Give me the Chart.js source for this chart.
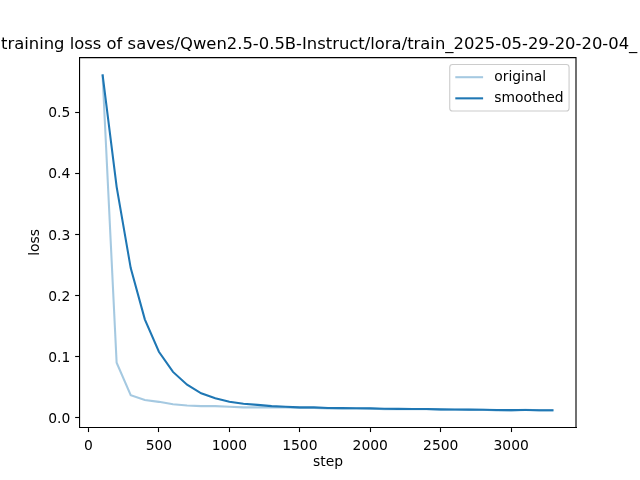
<!DOCTYPE html>
<html>
<head>
<meta charset="utf-8">
<script src="https://cdn.jsdelivr.net/npm/chart.js@4.4.1/dist/chart.umd.min.js"></script>
<style>
html,body{margin:0;padding:0;background:#fff;}
#wrap{width:640px;height:480px;}
</style>
</head>
<body>
<div id="wrap"><canvas id="c" width="640" height="480"></canvas></div>
<script>
const titleText = "training loss of saves/Qwen2.5-0.5B-Instruct/lora/train_2025-05-29-20-20-04_";
const steps = [100,200,300,400,500,600,700,800,900,1000,1100,1200,1300,1400,1500,1600,1700,1800,1900,2000,2100,2200,2300,2400,2500,2600,2700,2800,2900,3000,3100,3200,3300];
const original = [0.562,0.090,0.037,0.029,0.026,0.022,0.020,0.019,0.019,0.018,0.017,0.017,0.017,0.017,0.016,0.016,0.015,0.015,0.015,0.015,0.014,0.014,0.014,0.014,0.013,0.013,0.013,0.013,0.012,0.012,0.013,0.012,0.012];
const smoothed = [0.562,0.378,0.245,0.161,0.108,0.075,0.054,0.040,0.032,0.026,0.023,0.021,0.019,0.018,0.017,0.017,0.016,0.0157,0.0155,0.0153,0.0148,0.0145,0.0143,0.0142,0.0137,0.0134,0.0133,0.0132,0.0127,0.0124,0.0126,0.0123,0.0122];
const xTicks = [0,500,1000,1500,2000,2500,3000];
const yTicks = [0.0,0.1,0.2,0.3,0.4,0.5];
const seriesNames = ["original","smoothed"];
const xLabel = "step";
const yLabel = "loss";

const FONT = "'DejaVu Sans', sans-serif";
const FS = 13.89;
const BLUE = "#1f77b4";
const BLUE_A = "rgba(31,119,180,0.4)";
const LW = 2.08;

const overlay = {
  id: 'overlay',
  afterDraw(chart) {
    const ctx = chart.ctx;
    const a = chart.chartArea;
    ctx.save();
    // top & right spines
    ctx.strokeStyle = '#000';
    ctx.lineWidth = 1.11;
    ctx.beginPath();
    ctx.moveTo(a.left, a.top);
    ctx.lineTo(a.right, a.top);
    ctx.lineTo(a.right, a.bottom);
    ctx.stroke();
    // title (overflows the figure; left edge sits at the figure edge)
    ctx.fillStyle = '#000';
    ctx.font = `16.4px ${FONT}`;
    ctx.textAlign = 'left';
    ctx.textBaseline = 'alphabetic';
    ctx.fillText(titleText, 1, 49.3);
    // axis labels
    ctx.font = `${FS}px ${FONT}`;
    ctx.textAlign = 'center';
    ctx.textBaseline = 'middle';
    ctx.fillText(xLabel, (a.left + a.right) / 2, 462);
    ctx.save();
    ctx.translate(35.5, (a.top + a.bottom) / 2);
    ctx.rotate(-Math.PI / 2);
    ctx.fillText(yLabel, 0, 0);
    ctx.restore();
    // legend
    const pad = 5.56, hl = 27.8, htp = 11.1, ls = 6.94, rowH = 14.2;
    ctx.font = `${FS}px ${FONT}`;
    let tw = 0;
    seriesNames.forEach(n => tw = Math.max(tw, ctx.measureText(n).width));
    const w = pad + hl + htp + tw + pad;
    const h = pad * 2 + rowH * 2 + ls;
    const x0 = a.right - 6.94 - w;
    const y0 = a.top + 6.94;
    const r = 2.8;
    ctx.beginPath();
    ctx.moveTo(x0 + r, y0);
    ctx.lineTo(x0 + w - r, y0);
    ctx.arcTo(x0 + w, y0, x0 + w, y0 + r, r);
    ctx.lineTo(x0 + w, y0 + h - r);
    ctx.arcTo(x0 + w, y0 + h, x0 + w - r, y0 + h, r);
    ctx.lineTo(x0 + r, y0 + h);
    ctx.arcTo(x0, y0 + h, x0, y0 + h - r, r);
    ctx.lineTo(x0, y0 + r);
    ctx.arcTo(x0, y0, x0 + r, y0, r);
    ctx.closePath();
    ctx.fillStyle = 'rgba(255,255,255,0.8)';
    ctx.fill();
    ctx.strokeStyle = '#cccccc';
    ctx.lineWidth = 1.11;
    ctx.stroke();
    const cols = [BLUE_A, BLUE];
    seriesNames.forEach((n, i) => {
      const cy = y0 + pad + rowH / 2 + i * (rowH + ls);
      ctx.strokeStyle = cols[i];
      ctx.lineWidth = LW;
      ctx.beginPath();
      ctx.moveTo(x0 + pad, cy);
      ctx.lineTo(x0 + pad + hl, cy);
      ctx.stroke();
      ctx.fillStyle = '#000';
      ctx.textAlign = 'left';
      ctx.textBaseline = 'middle';
      ctx.fillText(n, x0 + pad + hl + htp, cy + 0.5);
    });
    ctx.restore();
  }
};

new Chart(document.getElementById('c'), {
  type: 'line',
  data: {
    datasets: [
      { label: seriesNames[0], data: steps.map((s, i) => ({x: s, y: original[i]})), borderColor: BLUE_A, borderWidth: LW, pointRadius: 0, tension: 0, fill: false, order: 1 },
      { label: seriesNames[1], data: steps.map((s, i) => ({x: s, y: smoothed[i]})), borderColor: BLUE, borderWidth: LW, pointRadius: 0, tension: 0, fill: false, order: 0 }
    ]
  },
  options: {
    responsive: false,
    animation: false,
    devicePixelRatio: 1,
    events: [],
    layout: { padding: { left: 0, top: 57.6, right: 64, bottom: 0 } },
    plugins: { legend: { display: false }, title: { display: false }, tooltip: { enabled: false } },
    scales: {
      x: {
        type: 'linear',
        min: -60, max: 3460,
        afterBuildTicks: s => { s.ticks = xTicks.map(v => ({value: v})); },
        afterFit: s => { s.height = 52.8; },
        grid: { drawOnChartArea: false, drawTicks: true, tickLength: 4.86, tickWidth: 1.11, tickColor: '#000' },
        border: { display: true, color: '#000', width: 1.11 },
        ticks: { color: '#000', font: { family: FONT, size: FS }, padding: 6.5, maxRotation: 0, autoSkip: false, callback: v => String(v) }
      },
      y: {
        type: 'linear',
        min: -0.0155, max: 0.5895,
        afterBuildTicks: s => { s.ticks = yTicks.map(v => ({value: v})); },
        afterFit: s => { s.width = 80; },
        grid: { drawOnChartArea: false, drawTicks: true, tickLength: 4.86, tickWidth: 1.11, tickColor: '#000' },
        border: { display: true, color: '#000', width: 1.11 },
        ticks: { color: '#000', font: { family: FONT, size: FS }, padding: 4.86, labelOffset: 1.5, autoSkip: false, callback: v => Number(v).toFixed(1) }
      }
    }
  },
  plugins: [overlay]
});
</script>
</body>
</html>
